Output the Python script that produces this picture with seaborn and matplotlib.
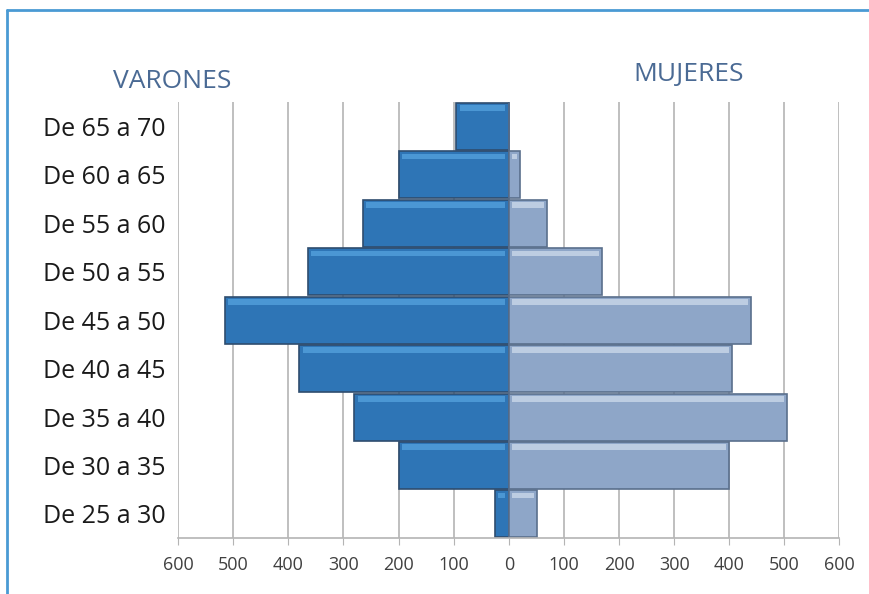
import matplotlib

matplotlib.use('Agg')
import matplotlib.pyplot as plt
from matplotlib.lines import Line2D
import numpy as np
import pandas as pd
import seaborn as sns

# age groups, top to bottom
edades = ["De 65 a 70", "De 60 a 65", "De 55 a 60", "De 50 a 55", "De 45 a 50",
          "De 40 a 45", "De 35 a 40", "De 30 a 35", "De 25 a 30"]
varones = [95, 200, 265, 365, 515, 380, 280, 200, 25]
mujeres = [0, 20, 70, 170, 440, 405, 505, 400, 52]
ticks = [-600, -500, -400, -300, -200, -100, 0, 100, 200, 300, 400, 500, 600]

sns.set_style('white')
plt.rcParams['font.family'] = ['Open Sans', 'DejaVu Sans']

df = pd.DataFrame({'edad': edades,
                   'varones': -np.array(varones),
                   'mujeres': mujeres})

fig = plt.figure(figsize=(8.69, 5.94), dpi=100)
ax = fig.add_axes([0.205, 0.094, 0.761, 0.734])

for x in ticks:
    ax.axvline(x, color='#b4b4b4', lw=1.2, zorder=0)

sns.barplot(data=df, x='varones', y='edad', orient='h', order=edades,
            color='#2e75b6', saturation=1, width=0.97,
            edgecolor='#2f4d6e', linewidth=1.2, ax=ax, zorder=2)
sns.barplot(data=df, x='mujeres', y='edad', orient='h', order=edades,
            color='#8ea6c8', saturation=1, width=0.97,
            edgecolor='#5a6f8c', linewidth=1.2, ax=ax, zorder=2)

# light bevel band near the top of each bar
for p in list(ax.patches):
    x0, y0 = p.get_x(), p.get_y()
    w, h = p.get_width(), p.get_height()
    if w == 0:
        continue
    light = '#4f9bd8' if w < 0 else '#c3d2e6'
    inset = 6 if w > 0 else -6
    if abs(w) > 14:
        ax.add_patch(plt.Rectangle((x0 + inset, y0 + h * 0.05), w - 2 * inset, h * 0.12,
                                   facecolor=light, edgecolor='none', alpha=0.9, zorder=3))

ax.set_xlim(-600, 600)
ax.set_ylim(len(edades) - 0.5, -0.5)
ax.set_xticks(ticks)
ax.set_xticklabels([str(abs(t)) for t in ticks], fontsize=13, color='#404040')
ax.tick_params(axis='x', length=5, color='#b4b4b4', pad=8, direction='out', bottom=True)
ax.tick_params(axis='y', length=0, pad=9)
for lab in ax.get_yticklabels():
    lab.set_fontsize(18)
    lab.set_color('#1a1a1a')
ax.set_xlabel('')
ax.set_ylabel('')
for s in ['top', 'right', 'left']:
    ax.spines[s].set_visible(False)
ax.spines['bottom'].set_color('#b4b4b4')
ax.spines['bottom'].set_linewidth(1.2)

fig.text(172 / 869, 1 - 82 / 594, 'VARONES', ha='center', va='center',
         fontsize=19, color='#4a6a94')
fig.text(689 / 869, 1 - 75 / 594, 'MUJERES', ha='center', va='center',
         fontsize=19, color='#4a6a94')

# frame lines (left and top)
fig.add_artist(Line2D([7 / 869, 7 / 869], [0, 1 - 10 / 594], color='#4a9ad4', lw=2))
fig.add_artist(Line2D([7 / 869, 1], [1 - 10 / 594, 1 - 10 / 594], color='#4a9ad4', lw=2))

fig.savefig('out.png', dpi=100)
